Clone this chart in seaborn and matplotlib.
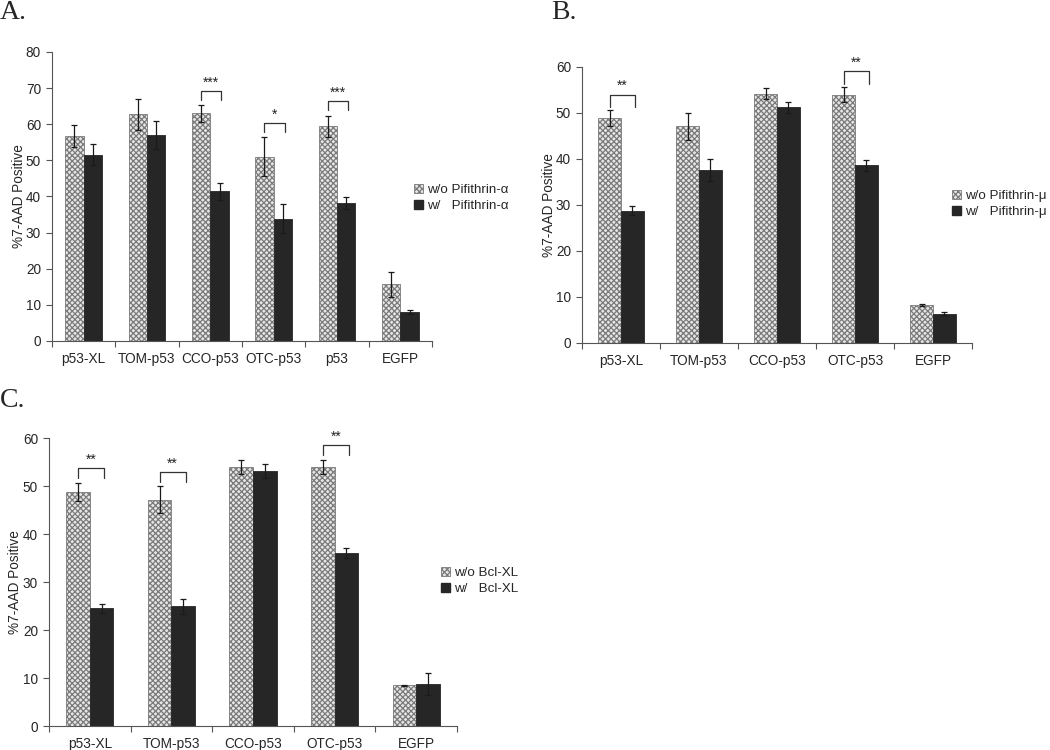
import numpy as np
import pandas as pd
import matplotlib
matplotlib.use("Agg")
import matplotlib.pyplot as plt
import seaborn as sns
from matplotlib.patches import Patch

sns.set_theme(style="ticks")
plt.rcParams["font.family"] = ["Liberation Sans", "DejaVu Sans"]
plt.rcParams["hatch.linewidth"] = 0.9

# ---------------- data ----------------
cats_a = ["p53-XL", "TOM-p53", "CCO-p53", "OTC-p53", "p53", "EGFP"]
wo_a = [56.8, 62.8, 63.0, 51.0, 59.4, 15.7]
wo_a_err = [3.0, 4.3, 2.3, 5.4, 3.0, 3.4]
w_a = [51.6, 57.1, 41.4, 33.9, 38.2, 8.1]
w_a_err = [2.8, 3.9, 2.3, 3.9, 1.7, 0.6]
sig_a = ["", "", "***", "*", "***", ""]
labels_a = ["w/o Pifithrin-α", "w/   Pifithrin-α"]

cats_b = ["p53-XL", "TOM-p53", "CCO-p53", "OTC-p53", "EGFP"]
wo_b = [48.9, 47.1, 54.2, 54.0, 8.3]
wo_b_err = [1.7, 2.9, 1.2, 1.7, 0.2]
w_b = [28.8, 37.6, 51.2, 38.6, 6.4]
w_b_err = [0.9, 2.4, 1.3, 1.1, 0.3]
sig_b = ["**", "", "", "**", ""]
labels_b = ["w/o Pifithrin-μ", "w/   Pifithrin-μ"]

cats_c = ["p53-XL", "TOM-p53", "CCO-p53", "OTC-p53", "EGFP"]
wo_c = [48.75, 47.1, 54.0, 54.0, 8.5]
wo_c_err = [1.9, 2.8, 1.5, 1.5, 0.1]
w_c = [24.5, 24.9, 53.1, 36.0, 8.7]
w_c_err = [0.9, 1.6, 1.4, 1.1, 2.3]
sig_c = ["**", "**", "", "**", ""]
labels_c = ["w/o Bcl-XL", "w/   Bcl-XL"]

DARK = "#262626"
HATCH_EDGE = "#7a7a7a"
HATCH = "xxxxxx"


def panel(ax, cats, wo, wo_err, w, w_err, sig, labels, ymax, pad, h, leg_xy, ylpad):
    df = pd.DataFrame({
        "cat": cats * 2,
        "val": list(wo) + list(w),
        "grp": [labels[0]] * len(cats) + [labels[1]] * len(cats),
    })
    sns.barplot(data=df, x="cat", y="val", hue="grp", hue_order=labels,
                order=cats, palette=["#e6e6e6", DARK], width=0.58,
                errorbar=None, saturation=1, legend=False, ax=ax)
    c0, c1 = ax.containers[0], ax.containers[1]
    for p in c0:
        p.set_hatch(HATCH)
        p.set_edgecolor(HATCH_EDGE)
        p.set_linewidth(0.6)
    for p in c1:
        p.set_edgecolor(DARK)
        p.set_linewidth(0.6)
    cx0 = [p.get_x() + p.get_width() / 2 for p in c0]
    cx1 = [p.get_x() + p.get_width() / 2 for p in c1]
    bw = c0[0].get_width()
    ax.errorbar(cx0, wo, yerr=wo_err, fmt="none", ecolor="#1a1a1a",
                elinewidth=0.9, capsize=2.5, capthick=0.9, zorder=5)
    ax.errorbar(cx1, w, yerr=w_err, fmt="none", ecolor="#1a1a1a",
                elinewidth=0.9, capsize=2.5, capthick=0.9, zorder=5)
    for i, s in enumerate(sig):
        if not s:
            continue
        x0 = cx0[i]
        x1 = cx1[i] + 0.1 * bw
        y0 = wo[i] + wo_err[i] + pad
        y1 = y0 + h
        ax.plot([x0, x0, x1, x1], [y0, y1, y1, y0], color="#333333", lw=0.9)
        ax.text((x0 + x1) / 2, y1 + 0.3, s, ha="center", va="bottom",
                fontsize=10, color="#222222")
    n = len(cats)
    ax.set_xlim(-0.5, n - 0.5)
    ax.set_ylim(0, ymax)
    ax.set_yticks(np.arange(0, ymax + 1, 10))
    ax.set_xticks(range(n))
    ax.set_xticklabels(cats)
    ax.set_xticks(np.arange(-0.5, n), minor=True)
    ax.tick_params(axis="x", which="major", length=0, pad=8, labelsize=9.8)
    ax.tick_params(axis="x", which="minor", length=4, width=0.8, color="#555555")
    ax.tick_params(axis="y", length=4, width=0.8, color="#555555", labelsize=9.8, pad=4)
    ax.set_xlabel("")
    ax.set_ylabel("%7-AAD Positive", fontsize=9.8, labelpad=ylpad)
    sns.despine(ax=ax)
    for sp in ("left", "bottom"):
        ax.spines[sp].set_color("#555555")
        ax.spines[sp].set_linewidth(0.8)
    handles = [Patch(facecolor="#e6e6e6", edgecolor=HATCH_EDGE, hatch=HATCH, lw=0.6),
               Patch(facecolor=DARK, edgecolor=DARK)]
    ax.legend(handles, labels, loc="center left", bbox_to_anchor=leg_xy,
              bbox_transform=ax.figure.transFigure, frameon=False,
              handlelength=0.7, handleheight=0.7, handletextpad=0.25,
              labelspacing=0.25, fontsize=9.6, borderpad=0, borderaxespad=0)


W, H = 1050, 750
fig = plt.figure(figsize=(W / 100, H / 100), dpi=100)

def rect(x0, y0, x1, y1):
    return [x0 / W, 1 - y1 / H, (x1 - x0) / W, (y1 - y0) / H]

axA = fig.add_axes(rect(52, 52, 432, 341))
axB = fig.add_axes(rect(582, 67, 972, 343))
axC = fig.add_axes(rect(49, 438, 457, 726))

panel(axA, cats_a, wo_a, wo_a_err, w_a, w_a_err, sig_a, labels_a, 80, 1.5, 2.5,
      (414 / W, 1 - 198 / H), -0.5)
panel(axB, cats_b, wo_b, wo_b_err, w_b, w_b_err, sig_b, labels_b, 60, 0.6, 2.8,
      (952 / W, 1 - 204 / H), 0)
panel(axC, cats_c, wo_c, wo_c_err, w_c, w_c_err, sig_c, labels_c, 60, 1.0, 2.0,
      (441 / W, 1 - 581 / H), 0.5)

for txt, x, y in (("A.", 0, 0), ("B.", 551, 0), ("C.", 0, 388)):
    fig.text(x / W, 1 - y / H, txt, family="Liberation Serif", fontsize=20,
             va="top", ha="left")

fig.savefig("out.png", dpi=100)
